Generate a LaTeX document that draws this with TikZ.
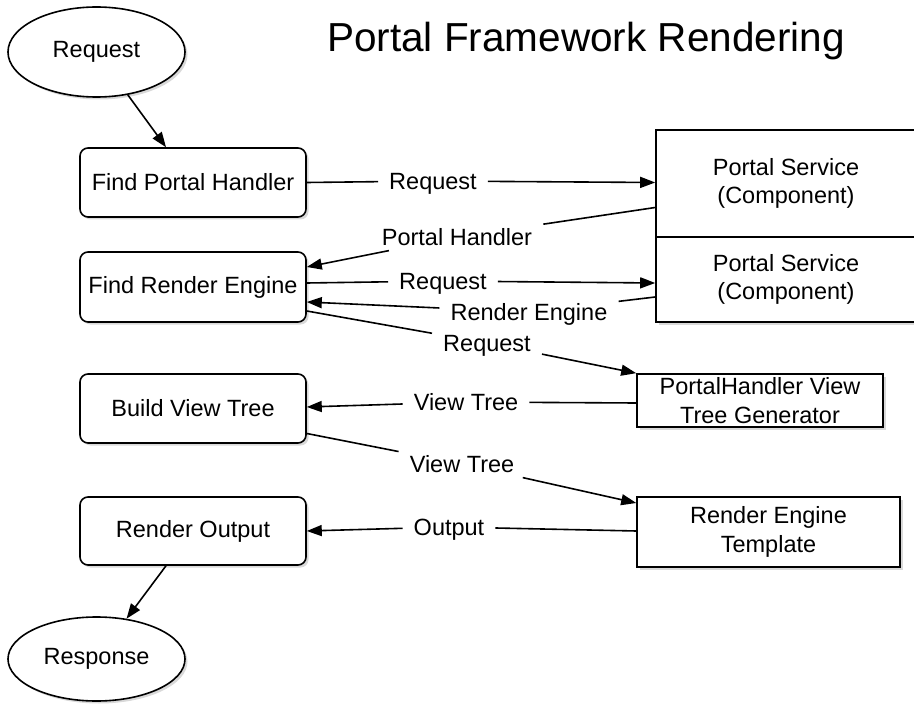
\documentclass[tikz,border=0pt]{standalone}
\usepackage{fontspec}
\setmainfont{Liberation Sans}
\usetikzlibrary{arrows.meta,shapes.geometric,shadows}
\begin{document}
\begin{tikzpicture}[x=1pt,y=-1pt,
  font=\fontsize{23.5}{28.5}\selectfont,
  lw/.style={line width=1.6pt},
  shade/.style={drop shadow={shadow xshift=2.5pt,shadow yshift=-2.5pt,opacity=0.3}},
  rbox/.style={draw,lw,rounded corners=8pt,fill=white,shade,minimum width=226pt,inner sep=0pt,align=center},
  sbox/.style={draw,lw,fill=white,shade,inner sep=0pt,align=center},
  oval/.style={draw,lw,ellipse,fill=white,shade,minimum width=177pt,inner sep=0pt},
  lbl/.style={inner xsep=11pt,inner ysep=5pt,text height=16.8pt,text depth=0pt},
  conn/.style={lw,-{Triangle[length=15pt,width=11pt]}}
]
\useasboundingbox (0,0) rectangle (914,706);

% title
\node[anchor=base] (title) at (586,52) {\fontsize{40.5}{48}\selectfont Portal Framework Rendering};

% left column
\node[oval,minimum height=90pt] (req) at (96.5,52) {Request};
\node[rbox,minimum height=69pt] (fph) at (193,182.5) {Find Portal Handler};
\node[rbox,minimum height=70pt] (fre) at (193,287) {Find Render Engine};
\node[rbox,minimum height=69pt] (bvt) at (193,408.5) {Build View Tree};
\node[rbox,minimum height=68pt] (ro) at (193,531) {Render Output};
\node[oval,minimum height=84pt] (resp) at (96.5,659) {Response};

% right column
\node[sbox,minimum width=260pt,minimum height=107pt] (ps1) at (786,183.5) {Portal Service\\(Component)};
\node[sbox,minimum width=260pt,minimum height=85pt] (ps2) at (786,279.5) {Portal Service\\(Component)};
\node[sbox,minimum width=246pt,minimum height=53pt] (phv) at (760,400.5) {PortalHandler View\\Tree Generator};
\node[sbox,minimum width=263pt,minimum height=70pt] (ret) at (768.5,532) {Render Engine\\Template};

% connector labels
\node[lbl] (L1) at (433,181) {Request};
\node[lbl] (L2) at (457,237) {Portal Handler};
\node[lbl] (L3) at (443,281) {Request};
\node[lbl] (L4) at (529,312) {Render Engine};
\node[lbl] (L5) at (487,343) {Request};
\node[lbl] (L6) at (466,402) {View Tree};
\node[lbl] (L7) at (462,464) {View Tree};
\node[lbl] (L8) at (449,527) {Output};

% connectors
\draw[conn] (req) -- ([xshift=-27pt]fph.north);
\draw[conn] (fph.east) -- (L1) -- (ps1.west |- fph.east);
\draw[conn] ([yshift=-24pt]ps1.west) -- (L2) -- ([yshift=20pt]fre.east);
\draw[conn] ([yshift=4pt]fre.east) -- (L3) -- ([yshift=-3.5pt]ps2.west);
\draw[conn] ([yshift=-17.5pt]ps2.west) -- (L4) -- ([yshift=-15pt]fre.east);
\draw[conn] ([yshift=-24pt]fre.east) -- (L5) -- (phv.north west);
\draw[conn] ([yshift=-2.5pt]phv.west) -- (L6) -- ([yshift=1.5pt]bvt.east);
\draw[conn] ([yshift=-25pt]bvt.east) -- (L7) -- ([yshift=29pt]ret.west);
\draw[conn] ([yshift=1pt]ret.west) -- (L8) -- (ro.east);
\draw[conn] ([xshift=-27pt]ro.south) -- (resp);
\end{tikzpicture}
\end{document}
